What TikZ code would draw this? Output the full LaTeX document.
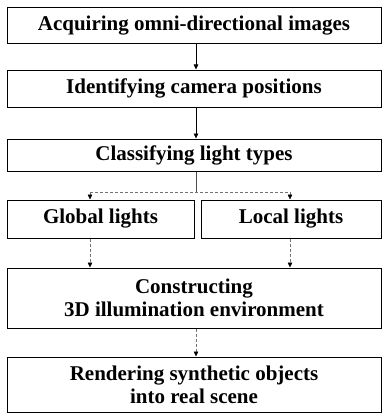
\documentclass[tikz,border=0pt]{standalone}
\usepackage{fontspec}
\setmainfont{Liberation Serif}
\usetikzlibrary{arrows.meta}
\begin{document}
\begin{tikzpicture}[x=1pt,y=-1pt,
  box/.style={draw=black, line width=1pt, inner sep=0pt, align=center,
    font=\fontsize{21}{23}\selectfont\bfseries},
  arr/.style={-{Triangle[length=5pt,width=4.5pt]}, line width=0.6pt},
  faint/.style={black!55, line width=0.6pt, densely dashed},
  farr/.style={faint, -{Triangle[length=5pt,width=4.5pt,color=black]}}]
\useasboundingbox[fill=white] (0,0) rectangle (383,420);
\node[box, minimum width=374pt, minimum height=36pt] (acq) at (194,26) {Acquiring omni-directional images};
\node[box, minimum width=374pt, minimum height=37pt] (cam) at (194,88.5) {Identifying camera positions};
\node[box, minimum width=374pt, minimum height=32pt] (cls) at (194,155) {Classifying light types};
\node[box, minimum width=187pt, minimum height=38pt] (glo) at (100.5,219) {Global lights};
\node[box, minimum width=180pt, minimum height=38pt] (loc) at (291,219) {Local lights};
\node[box, minimum width=374pt, minimum height=60pt] (con) at (194,298) {Constructing\\3D illumination environment};
\node[box, minimum width=374pt, minimum height=55pt] (ren) at (194,384.5) {Rendering synthetic objects\\into real scene};
\coordinate (split) at (196,192);
\coordinate (sl) at (90,192);
\coordinate (sr) at (290,192);
\draw[arr] (acq.south -| split) -- (cam.north -| split);
\draw[arr] (cam.south -| split) -- (cls.north -| split);
\draw[line width=0.6pt, black!70] (cls.south -| split) -- (split);
\draw[faint] (sl) -- (sr);
\draw[farr] (sl) -- (glo.north -| sl);
\draw[farr] (sr) -- (loc.north -| sr);
\draw[farr] (glo.south -| sl) -- (con.north -| sl);
\draw[farr] (loc.south -| sr) -- (con.north -| sr);
\draw[farr] (con.south -| split) -- (ren.north -| split);
\end{tikzpicture}
\end{document}
